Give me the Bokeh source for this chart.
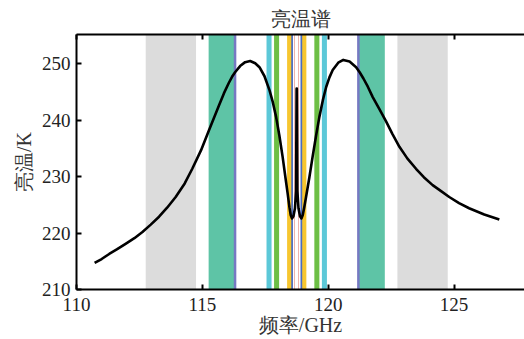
from bokeh.plotting import figure
from bokeh.models import Range1d, LinearAxis, FixedTicker
from bokeh.embed import file_html
from bokeh.resources import INLINE

# ---- data ----
line_center = 118.75  # GHz, O2 line
chan_offsets = [5.0, 2.5, 3.0, 1.1, 0.8, 0.2, 0.3, 0.08]          # GHz, drawing order
chan_bandwidths = [2.0, 0.2, 1.0, 0.2, 0.2, 0.1, 0.165, 0.02]      # GHz
chan_colors = ["#dcdcdc", "#7678c2", "#5ec4a6", "#5cc8d8", "#6dbf45",
               "#4a6cc0", "#f7c62f", "#e06a5a"]

freq = [110.72, 111.0, 111.3, 111.6, 111.95, 112.3, 112.62, 112.95, 113.28,
        113.6, 113.94, 114.3, 114.6, 114.95, 115.26, 115.46, 115.66, 115.86,
        116.05, 116.18, 116.3, 116.5, 116.7, 116.9, 117.1, 117.27,
        117.47, 117.67, 117.8, 117.93, 118.06, 118.19, 118.3, 118.39, 118.46,
        118.51, 118.56, 118.62, 118.68, 118.725, 118.745, 118.755, 118.775,
        118.82, 118.88, 118.94, 118.99, 119.05, 119.12, 119.25, 119.38, 119.52,
        119.65, 119.79, 119.92, 120.05, 120.18, 120.4, 120.6, 120.85, 121.11,
        121.25, 121.4, 121.58, 121.77, 122.03, 122.3, 122.55, 122.83, 123.15,
        123.49, 123.8, 124.15, 124.5, 124.81, 125.2, 125.6, 126.2, 126.8]
tb = [214.7, 215.4, 216.3, 217.1, 218.1, 219.1, 220.2, 221.5, 222.9,
      224.5, 226.4, 228.8, 231.4, 234.7, 238.2, 240.4, 242.6, 244.8,
      246.6, 247.7, 248.5, 249.6, 250.3, 250.5, 250.1, 249.4,
      247.8, 245.3, 243.2, 240.6, 237.3, 233.5, 229.9, 227.0, 224.6,
      223.2, 222.6, 223.0, 224.4, 227.5, 245.6, 245.6, 227.5,
      224.4, 223.0, 222.6, 223.2, 224.6, 226.4, 229.8, 233.5, 237.3,
      240.6, 243.6, 245.9, 247.6, 248.9, 250.2, 250.7, 250.4, 249.4,
      248.5, 247.4, 245.9, 244.1, 242.0, 239.8, 237.6, 235.3, 233.2,
      231.4, 229.9, 228.5, 227.4, 226.4, 225.3, 224.4, 223.3, 222.4]

x_ticks = [110, 115, 120, 125]
y_ticks = [210, 220, 230, 240, 250]
y_lo, y_hi = 210, 255.2

SERIF = "Liberation Serif"

p = figure(width=524, height=339, output_backend="svg", toolbar_location=None,
           x_range=Range1d(110, 127.8), y_range=Range1d(y_lo, y_hi),
           min_border_left=76, min_border_right=0, min_border_top=34,
           min_border_bottom=50, x_axis_location="below")
p.background_fill_color = "white"
p.border_fill_color = "white"
p.outline_line_color = None
p.grid.visible = False

# channel passbands, symmetric around the line centre
for off, bw, col in zip(chan_offsets, chan_bandwidths, chan_colors):
    lefts = [line_center - off - bw / 2, line_center + off - bw / 2]
    rights = [line_center - off + bw / 2, line_center + off + bw / 2]
    p.quad(left=lefts, right=rights, bottom=y_lo, top=y_hi,
           fill_color=col, line_color=None)

p.line(freq, tb, line_color="black", line_width=2.6, line_join="round")

p.title.text = "亮温谱"
p.title.align = "center"
p.title.text_font = SERIF
p.title.text_font_size = "20px"
p.title.text_font_style = "normal"
p.title.text_color = "#333333"

for ax in (p.xaxis[0], p.yaxis[0]):
    ax.axis_line_width = 2
    ax.axis_line_color = "black"
    ax.major_tick_in = 5
    ax.major_tick_out = 0
    ax.major_tick_line_width = 2
    ax.minor_tick_line_color = None
    ax.major_label_text_font = SERIF
    ax.major_label_text_font_size = "19px"
    ax.major_label_text_color = "#222222"
    ax.axis_label_text_font = SERIF
    ax.axis_label_text_font_size = "20px"
    ax.axis_label_text_font_style = "normal"
    ax.axis_label_text_color = "#333333"

p.xaxis[0].ticker = FixedTicker(ticks=x_ticks)
p.yaxis[0].ticker = FixedTicker(ticks=y_ticks)
p.xaxis[0].axis_label = "频率/GHz"
p.yaxis[0].axis_label = "亮温/K"
p.xaxis[0].major_label_standoff = 8
p.xaxis[0].axis_label_standoff = 0
p.yaxis[0].major_label_standoff = 6
p.yaxis[0].axis_label_standoff = 4

top = LinearAxis(ticker=FixedTicker(ticks=x_ticks),
                 major_label_overrides={t: "" for t in x_ticks})
top.axis_line_width = 2
top.major_tick_in = 5
top.major_tick_out = 0
top.major_tick_line_width = 2
top.minor_tick_line_color = None
top.major_label_standoff = 0
p.add_layout(top, "above")

open("out.html", "w").write(file_html(p, INLINE))
